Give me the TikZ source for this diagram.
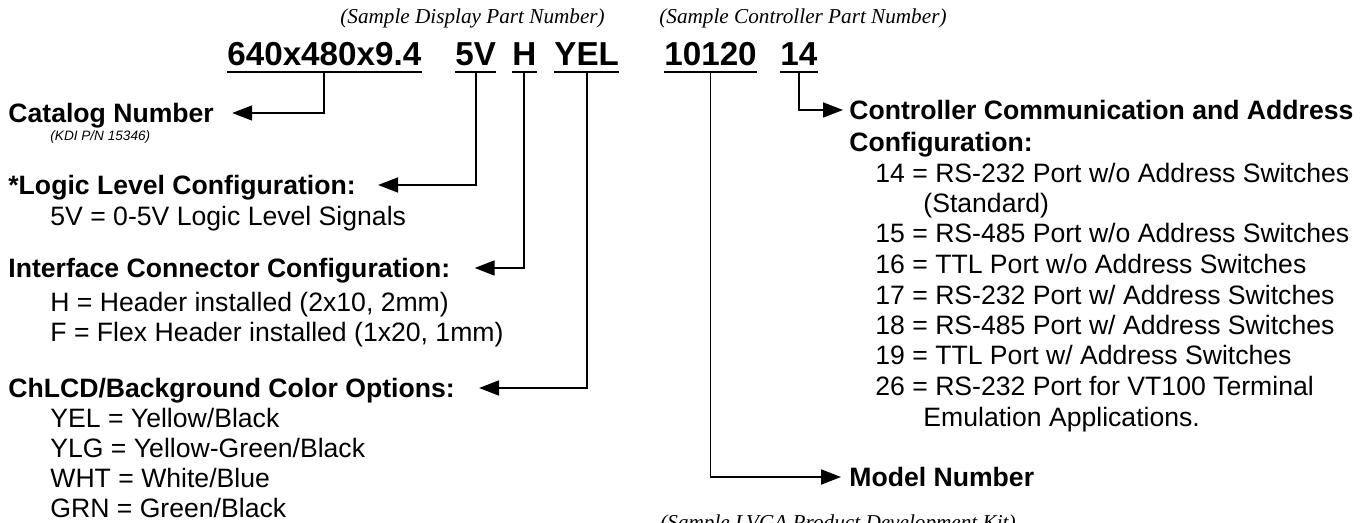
\documentclass[tikz,border=0pt]{standalone}
\usepackage{fontspec}
\setmainfont{Liberation Serif}
\setsansfont{Liberation Sans}
\usetikzlibrary{arrows.meta}

\begin{document}
\begin{tikzpicture}[x=0.5pt, y=-0.5pt,
    partno/.style={font=\sffamily\bfseries\fontsize{16.6}{18}\selectfont, anchor=west,
                   inner xsep=0pt, inner ysep=3pt, text height=11.6pt, text depth=0pt},
    sample/.style={font=\itshape\fontsize{10.6}{12}\selectfont, anchor=west,
                   inner sep=0pt, text height=7pt, text depth=0pt},
    head/.style={font=\sffamily\bfseries\fontsize{13.3}{15}\selectfont, anchor=west,
                 inner sep=0pt, text height=9.5pt, text depth=0pt},
    item/.style={font=\sffamily\fontsize{13.3}{15}\selectfont, anchor=west,
                 inner sep=0pt, text height=9.5pt, text depth=0pt},
    note/.style={font=\sffamily\itshape\fontsize{6.8}{8}\selectfont, anchor=west, inner sep=0pt},
    uline/.style={line width=1pt},
    lead/.style={line width=0.9pt, -{Triangle[length=10pt, width=7.5pt]}}
  ]
    % page frame
    \fill[white] (0,0) rectangle (1364,523);
    \useasboundingbox (0,0) rectangle (1364,523);

    % sample part numbers
    \node[sample] (dispsample) at (340, 17)  {(Sample Display Part Number)};
    \node[sample] (ctlsample)  at (659, 17)  {(Sample Controller Part Number)};
    \node[sample] (kitsample)  at (660, 522) {(Sample LVGA Product Development Kit)};

    \node[partno] (catno)   at (227, 54) {640x480x9.4};
    \node[partno] (lvlno)   at (455, 54) {5V};
    \node[partno] (connno)  at (512, 54) {H};
    \node[partno] (colorno) at (554, 54) {YEL};
    \node[partno] (modelno) at (664, 54) {10120};
    \node[partno] (commno)  at (780, 54) {14};

    \foreach \n in {catno, lvlno, connno, colorno, modelno, commno}
      \draw[uline] (\n.south west) -- (\n.south east);

    % left column
    \node[head] (catalog) at (8, 113) {Catalog Number};
    \node[note] (kdi)     at (50, 137) {(KDI P/N 15346)};

    \node[head] (logic) at (8, 185) {*Logic Level Configuration:};
    \node[item] (lvl1)  at (50, 216) {5V = 0-5V Logic Level Signals};

    \node[head] (iface) at (8, 268) {Interface Connector Configuration:};
    \foreach \i/\y/\t in {1/302/{H = Header installed (2x10, 2mm)},
                          2/332/{F = Flex Header installed (1x20, 1mm)}}
      \node[item] (conn\i) at (50, \y) {\t};

    \node[head] (chlcd) at (8, 388) {ChLCD/Background Color Options:};
    \foreach \i/\y/\t in {1/418/{YEL = Yellow/Black}, 2/448/{YLG = Yellow-Green/Black},
                          3/478/{WHT = White/Blue}, 4/508/{GRN = Green/Black}}
      \node[item] (col\i) at (50, \y) {\t};

    % right column
    \node[head] (ctlhead)  at (849, 110) {Controller Communication and Address};
    \node[head] (ctlhead2) at (849, 142) {Configuration:};
    \foreach \i/\x/\y/\t in {1/875/173/{14 = RS-232 Port w/o Address Switches},
                             2/923/203/{(Standard)},
                             3/875/233/{15 = RS-485 Port w/o Address Switches},
                             4/875/264/{16 = TTL Port w/o Address Switches},
                             5/875/295/{17 = RS-232 Port w/ Address Switches},
                             6/875/325/{18 = RS-485 Port w/ Address Switches},
                             7/875/355/{19 = TTL Port w/ Address Switches},
                             8/875/386/{26 = RS-232 Port for VT100 Terminal},
                             9/923/417/{Emulation Applications.}}
      \node[item] (ctl\i) at (\x, \y) {\t};

    \node[head] (model) at (849, 477) {Model Number};

    % leaders
    \draw[lead] (catno.south)   |- ([xshift=9pt]catalog.east);
    \draw[lead] (lvlno.south)   |- ([xshift=11pt]logic.east);
    \draw[lead] (connno.south)  |- ([xshift=12pt]iface.east);
    \draw[lead] (colorno.south) |- ([xshift=12pt]chlcd.east);
    \draw[lead] (commno.south)  |- ([xshift=-3pt]ctlhead.west);
    \draw[lead] (modelno.south) |- ([xshift=-4pt]model.west);
\end{tikzpicture}
\end{document}
